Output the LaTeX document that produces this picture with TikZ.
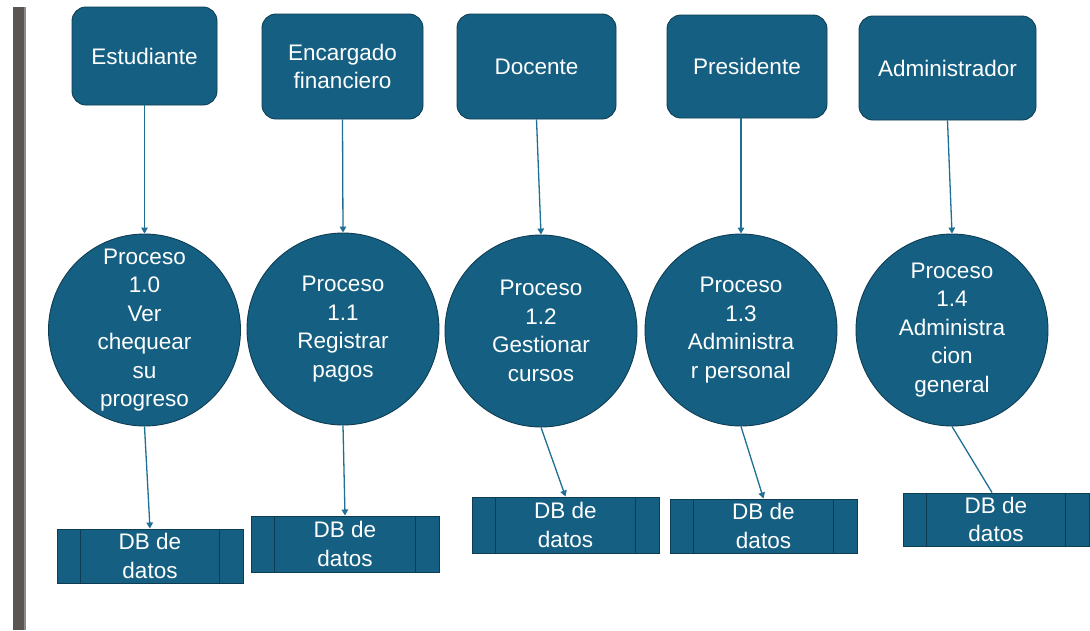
\documentclass[tikz,border=0pt]{standalone}
\usepackage{fontspec}
\setmainfont{Liberation Sans}
\usetikzlibrary{arrows.meta}

\definecolor{fillblue}{HTML}{156082}
\definecolor{edgeblue}{HTML}{0E3D53}
\definecolor{linkblue}{HTML}{1F6F95}
\definecolor{bargray}{HTML}{5A5552}
\definecolor{baredge}{HTML}{8C8A88}

\begin{document}
\begin{tikzpicture}[x=1pt,y=-1pt,
  labelfont/.style={font=\fontsize{22.5}{28.5}\selectfont},
  actor/.style={draw=edgeblue, fill=fillblue, rounded corners=14pt,
    line width=0.9pt, text=white, align=center, inner sep=0pt, labelfont},
  proc/.style={circle, draw=edgeblue, fill=fillblue, line width=0.9pt,
    minimum size=192pt, inner sep=0pt, text=white, align=center, labelfont},
  store/.style={draw=edgeblue, fill=fillblue, line width=1pt, text=white,
    align=center, inner sep=0pt, labelfont,
    path picture={\draw[edgeblue, line width=1pt]
      ([xshift=23.5pt]path picture bounding box.north west) --
      ([xshift=23.5pt]path picture bounding box.south west)
      ([xshift=-23.5pt]path picture bounding box.north east) --
      ([xshift=-23.5pt]path picture bounding box.south east);}},
  flow/.style={draw=linkblue, line width=1.3pt,
    -{Triangle[length=6pt,width=6.5pt]}},
  plainflow/.style={draw=linkblue, line width=1.3pt},
]
% page
\useasboundingbox (0,0) rectangle (1090,630);
\fill[white] (0,0) rectangle (1090,630);

% left edge bar
\fill[bargray] (13,7) rectangle (24,630);
\fill[baredge] (24,7) rectangle (26,630);

% external entities
\node[actor, minimum width=145pt, minimum height=98pt]  (b1) at (144.5,56)   {Estudiante};
\node[actor, minimum width=161pt, minimum height=105pt] (b2) at (342.5,66.5) {Encargado\\financiero};
\node[actor, minimum width=159pt, minimum height=105pt] (b3) at (536.5,66.5) {Docente};
\node[actor, minimum width=160pt, minimum height=103pt] (b4) at (747,66.5)   {Presidente};
\node[actor, minimum width=177pt, minimum height=104pt] (b5) at (947.5,68)   {Administrador};

% processes
\node[proc] (c1) at (144.5,330) {Proceso\\1.0\\Ver\\chequear\\su\\progreso};
\node[proc] (c2) at (343,329)   {Proceso\\1.1\\Registrar\\pagos};
\node[proc] (c3) at (541,331)   {Proceso\\1.2\\Gestionar\\cursos};
\node[proc] (c4) at (741,330)   {Proceso\\1.3\\Administra\\r personal};
\node[proc] (c5) at (952,330)   {Proceso\\1.4\\Administra\\cion\\general};

% data stores
\node[store, minimum width=186pt, minimum height=54pt] (d1) at (150,556)   {DB de\\datos};
\node[store, minimum width=188pt, minimum height=56pt] (d2) at (345,544)   {DB de\\datos};
\node[store, minimum width=187pt, minimum height=56pt] (d3) at (565.5,525) {DB de\\datos};
\node[store, minimum width=187pt, minimum height=54pt] (d4) at (763.5,526) {DB de\\datos};
\node[store, minimum width=186pt, minimum height=53pt] (d5) at (996,519.5) {DB de\\datos};

% entity -> process
\draw[flow] (b1.south) -- (c1.north);
\draw[flow] (b2.south) -- (c2.north);
\draw[flow] (b3.south) -- (c3.north);
\draw[flow] (b4.south -| c4.north) -- (c4.north);
\draw[flow] (b5.south) -- (c5.north);

% process -> store
\draw[flow] (c1.south) -- (d1.north);
\draw[flow] (c2.south) -- (d2.north);
\draw[flow] (c3.south) -- (d3.north);
\draw[flow] (c4.south) -- (d4.north);
\draw[plainflow] (c5.south) -- ([xshift=-4pt]d5.north);
\end{tikzpicture}
\end{document}
